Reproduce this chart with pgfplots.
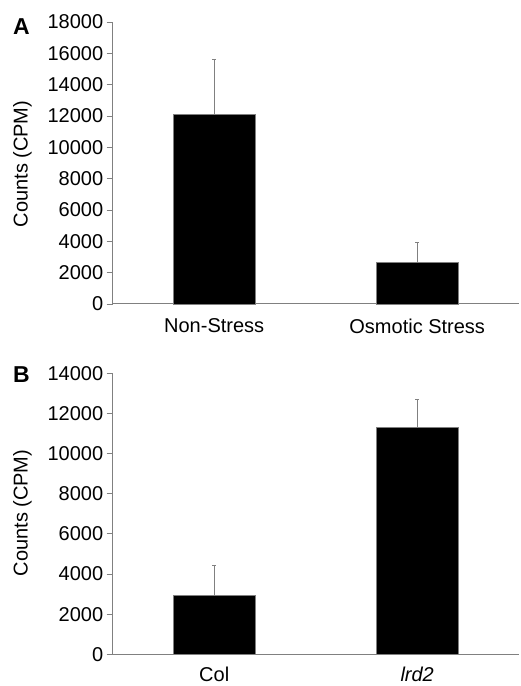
\documentclass[border=0pt]{standalone}
\usepackage{pgfplots}
\pgfplotsset{compat=1.18}
\usepackage{fontspec}
\setmainfont{Liberation Sans}
\definecolor{axgray}{RGB}{128,128,128}
\pgfplotsset{
  panel/.style={
    scale only axis,
    width=406pt,
    xmin=-0.5, xmax=1.5,
    ymin=0,
    axis x line*=bottom,
    axis y line*=left,
    axis line style={axgray, line width=1pt},
    tick align=outside,
    tick style={axgray, line width=0.8pt},
    major tick length=6pt,
    xtick={0,1},
    x tick style={draw=none},
    extra x ticks={-0.5,0.5,1.5},
    extra x tick labels={},
    extra x tick style={tick style={axgray, line width=0.8pt, draw=axgray}},
    scaled y ticks=false,
    /pgf/number format/1000 sep={},
    /pgf/number format/fixed,
    /pgf/number format/assume math mode=true,
    ticklabel style={font=\fontsize{20}{24}\selectfont, text=black},
    ybar,
    bar width=81.6pt,
    clip=false,
  },
  barstyle/.style={
    fill=black, draw=axgray, line width=0.8pt,
    error bars/.cd, y dir=plus, y explicit,
    error bar style={axgray, line width=1pt},
    error mark options={rotate=90, mark size=1.8pt, axgray, line width=1pt},
  },
}
\begin{document}
\begin{tikzpicture}[x=1pt,y=1pt]
\useasboundingbox (0,0) rectangle (520,686);
\begin{axis}[panel,
  at={(112.7pt,382pt)}, anchor=south west,
  height=282pt, ymax=18000,
  ytick={0,2000,...,18000},
  xticklabels={Non-Stress, Osmotic Stress},
  xticklabel style={yshift=-5pt},
]
\addplot[barstyle] coordinates {(0,12100) +- (0,3500) (1,2650) +- (0,1270)};
\end{axis}
\begin{axis}[panel,
  at={(112.7pt,31.7pt)}, anchor=south west,
  height=281pt, ymax=14000,
  ytick={0,2000,...,14000},
  xticklabels={Col, \textit{lrd2}},
  xticklabel style={yshift=-3pt},
]
\addplot[barstyle] coordinates {(0,2920) +- (0,1500) (1,11300) +- (0,1370)};
\end{axis}
\node[rotate=90, font=\fontsize{20}{24}\selectfont] at (22.5,522) {Counts (CPM)};
\node[rotate=90, font=\fontsize{20}{24}\selectfont] at (22.5,173) {Counts (CPM)};
\node[anchor=base west, inner sep=0, font=\fontsize{23}{26}\selectfont\bfseries] at (13,651) {A};
\node[anchor=base west, inner sep=0, font=\fontsize{23}{26}\selectfont\bfseries] at (13,303) {B};
\end{tikzpicture}
\end{document}
